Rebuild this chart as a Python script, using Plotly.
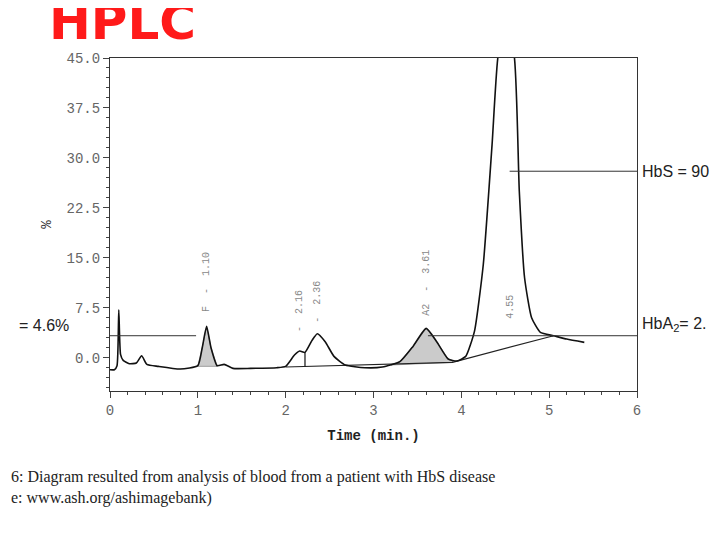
import plotly.graph_objects as go

# chromatogram trace (time in min, %)
time = [0.0, 0.05, 0.08, 0.1, 0.12, 0.15, 0.22, 0.3, 0.36, 0.42, 0.55, 0.8, 1.0, 1.05, 1.1, 1.15, 1.22, 1.3, 1.4,
        1.6, 1.9, 2.0, 2.1, 2.16, 2.22, 2.3, 2.36, 2.45, 2.55, 2.68, 2.9, 3.1, 3.3, 3.45, 3.6, 3.72, 3.85, 3.95,
        4.05, 4.15, 4.25, 4.35, 4.42, 4.5, 4.6, 4.66, 4.72, 4.8, 4.9, 5.05, 5.2, 5.4]
signal = [-1.8, -1.8, -1.2, 7.2, 0.5, -0.4, -0.9, -0.8, 0.3, -1.0, -1.3, -1.7, -1.2, 1.5, 4.7, 1.5, -1.2, -1.0,
          -1.6, -1.6, -1.5, -1.3, 0.4, 1.0, 0.8, 2.6, 3.6, 2.4, 0.2, -1.1, -1.5, -1.4, -0.6, 1.7, 4.4, 2.4, -0.2,
          -0.5, 0.2, 4.0, 14.0, 32.0, 45.5, 49.0, 45.5, 25.0, 12.0, 6.0, 3.8, 3.3, 2.8, 2.3]

# integration baselines
base_x = [2.0, 3.9, 5.05]
base_y = [-1.4, -0.7, 3.3]
hbf_x = [1.0, 1.05, 1.1, 1.15, 1.22]
hbf_y = [-1.2, 1.5, 4.7, 1.5, -1.2]
a2_x = [3.2, 3.3, 3.45, 3.6, 3.72, 3.85, 3.9]
a2_y = [-1.1, -0.6, 1.7, 4.4, 2.4, -0.2, -0.4]

peak_times = [1.10, 2.16, 2.36, 3.61, 4.55]
peak_labels = ["F  -  1.10", "-  2.16", "-  2.36", "A2  -  3.61", "4.55"]
peak_label_y = [6.5, 3.5, 5.0, 6.0, 5.5]

mono = "Liberation Mono"
fig = go.Figure()
fig.add_trace(go.Scatter(x=hbf_x + [hbf_x[-1], hbf_x[0]], y=hbf_y + [-1.3, -1.3], fill="toself",
                         fillcolor="rgba(160,160,160,0.55)", line=dict(width=0.5, color="#555"), mode="lines"))
fig.add_trace(go.Scatter(x=a2_x + [3.9, 3.2], y=a2_y + [-0.7, -1.1], fill="toself",
                         fillcolor="rgba(160,160,160,0.55)", line=dict(width=0.5, color="#555"), mode="lines"))
fig.add_trace(go.Scatter(x=base_x, y=base_y, mode="lines", line=dict(color="#222", width=1.2)))
fig.add_trace(go.Scatter(x=time, y=signal, mode="lines", line=dict(color="#111", width=1.6, shape="spline", smoothing=0.5)))
fig.add_trace(go.Scatter(x=[2.22, 2.22], y=[-1.3, 0.8], mode="lines", line=dict(color="#111", width=1.2)))

# percentage guide lines
fig.add_trace(go.Scatter(x=[-0.5, 0.98], y=[3.3, 3.3], mode="lines", line=dict(color="#333", width=1), cliponaxis=False))
fig.add_trace(go.Scatter(x=[3.62, 6.05], y=[3.3, 3.3], mode="lines", line=dict(color="#333", width=1), cliponaxis=False))
fig.add_trace(go.Scatter(x=[4.55, 6.05], y=[28, 28], mode="lines", line=dict(color="#333", width=1), cliponaxis=False))

for t, lab, ly in zip(peak_times, peak_labels, peak_label_y):
    fig.add_annotation(x=t, y=ly, text=lab, textangle=-90, showarrow=False, yanchor="bottom",
                       font=dict(family=mono, size=10, color="#888"))

y_frac = lambda v: (v + 5) / 50
fig.add_annotation(xref="paper", yref="paper", x=1.005, y=y_frac(28), text="HbS = 90", xanchor="left",
                   showarrow=False, font=dict(family="Liberation Sans", size=16, color="#222"))
fig.add_annotation(xref="paper", yref="paper", x=1.005, y=y_frac(3.3), text="HbA<sub>2</sub>= 2.", xanchor="left",
                   showarrow=False, font=dict(family="Liberation Sans", size=16, color="#222"))
fig.add_annotation(xref="paper", yref="paper", x=-0.074, y=y_frac(3.3), text="= 4.6%", xanchor="right",
                   showarrow=False, font=dict(family="Liberation Sans", size=16, color="#222"))

fig.add_annotation(xref="paper", yref="paper", x=-0.14, y=0.5, text="%", showarrow=False, textangle=-90,
                   font=dict(family=mono, size=14, color="#333"))
fig.add_annotation(xref="paper", yref="paper", x=-0.12, y=1.2, text="<b>HPLC</b>", showarrow=False,
                   xanchor="left", yanchor="top", font=dict(family="DejaVu Sans", size=50, color="#ff1a1a"))
fig.add_annotation(xref="paper", yref="paper", x=-0.192, y=-0.29, xanchor="left", yanchor="middle",
                   showarrow=False, align="left",
                   text="6: Diagram resulted from analysis of blood from a patient with HbS disease<br>e: www.ash.org/ashimagebank)",
                   font=dict(family="Liberation Serif", size=16, color="#222"))
fig.add_shape(type="line", xref="paper", yref="paper", x0=1.005, x1=1.2, y0=1.17, y1=1.17,
              line=dict(color="#333", width=2))

fig.update_layout(
    width=720, height=540, showlegend=False,
    plot_bgcolor="white", paper_bgcolor="white",
    margin=dict(l=102, r=91, t=50, b=157),
    xaxis=dict(range=[0, 6], dtick=1, showgrid=False, zeroline=False, ticks="outside", ticklen=6,
               showline=True, mirror=True, linecolor="#333", linewidth=1.2,
               minor=dict(ticks="outside", dtick=0.2, ticklen=3),
               tickfont=dict(family=mono, size=14, color="#666"),
               title=dict(text="<b>Time (min.)</b>", font=dict(family=mono, size=14, color="#222"), standoff=12)),
    yaxis=dict(range=[-5, 45], tickvals=[0, 7.5, 15, 22.5, 30, 37.5, 45], tickformat=".1f",
               showgrid=False, zeroline=False, ticks="outside", ticklen=6,
               showline=True, mirror=True, linecolor="#333", linewidth=1.2,
               minor=dict(ticks="outside", dtick=1.5, ticklen=3),
               tickfont=dict(family=mono, size=14, color="#666")),
)
fig.write_html("out.html")
